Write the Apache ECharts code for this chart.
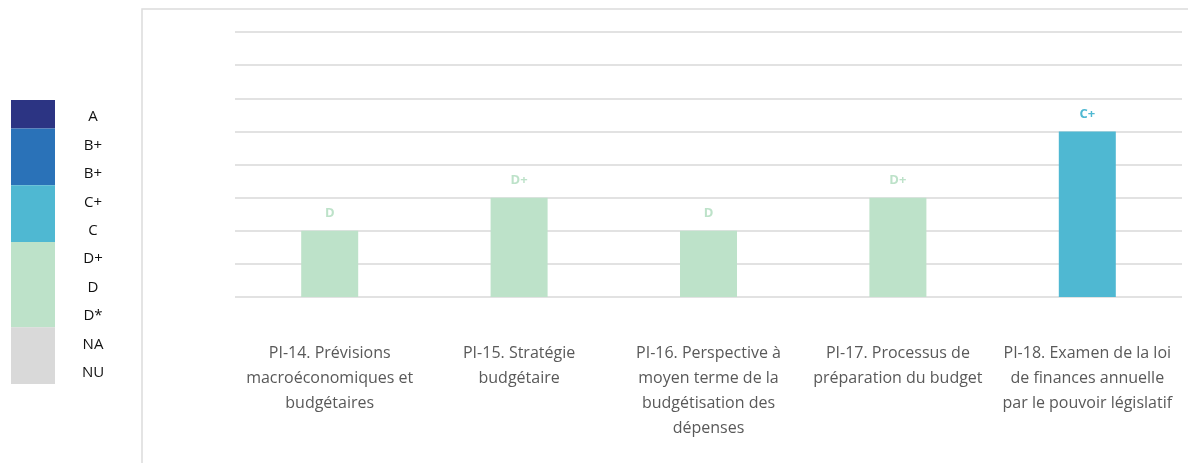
<!DOCTYPE html>
<html>
<head>
<meta charset="utf-8">
<script src="https://cdn.jsdelivr.net/npm/echarts@6/dist/echarts.min.js"></script>
<style>
  html, body { margin: 0; padding: 0; background: #fff; }
  #chart { width: 1188px; height: 463px; }
</style>
</head>
<body>
<div id="chart"></div>
<script>
// PEFA indicators and their scores
const categories = [
  'PI-14. Prévisions\nmacroéconomiques et\nbudgétaires',
  'PI-15. Stratégie\nbudgétaire',
  'PI-16. Perspective à\nmoyen terme de la\nbudgétisation des\ndépenses',
  'PI-17. Processus de\npréparation du budget',
  'PI-18. Examen de la loi\nde finances annuelle\npar le pouvoir législatif'
];
const grades = ['D', 'D+', 'D', 'D+', 'C+'];
const scores = [2, 3, 2, 3, 5];

// Colour key: one row per grade
const keyLabels = ['A', 'B+', 'B+', 'C+', 'C', 'D+', 'D', 'D*', 'NA', 'NU'];
const keyColors = ['#2c3483', '#2a72b8', '#2a72b8', '#4fb8d2', '#4fb8d2',
                   '#bde2c9', '#bde2c9', '#bde2c9', '#d9d9d9', '#d9d9d9'];

const gradeColor = {};
keyLabels.forEach((g, i) => { if (!(g in gradeColor)) gradeColor[g] = keyColors[i]; });

// Merge consecutive rows sharing a colour into one block of the key
const keyBlocks = [];
keyColors.forEach(c => {
  const last = keyBlocks[keyBlocks.length - 1];
  if (last && last.color === c) last.rows += 1;
  else keyBlocks.push({ color: c, rows: 1 });
});

const FONT = 'Open Sans';
const chart = echarts.init(document.getElementById('chart'));

chart.setOption({
  animation: false,
  textStyle: { fontFamily: FONT },
  graphic: [{
    type: 'rect',
    shape: { x: 142, y: 9, width: 1200, height: 600 },
    style: { fill: 'none', stroke: '#dcdcdc', lineWidth: 1.5 },
    silent: true
  }],
  grid: [
    { left: 235, right: 6, top: 32, bottom: 166 },
    { left: 11, width: 44, top: 100, height: 284 },
    { left: 11, width: 44, top: 103, height: 284 }
  ],
  xAxis: [
    {
      type: 'category', gridIndex: 0, data: categories,
      axisLine: { show: false }, axisTick: { show: false },
      axisLabel: { interval: 0, margin: 44, color: '#595959', fontSize: 16, lineHeight: 25, fontFamily: FONT }
    },
    { type: 'category', gridIndex: 1, data: ['key'], show: false },
    { type: 'value', gridIndex: 2, min: 0, max: 1, show: false }
  ],
  yAxis: [
    {
      type: 'value', gridIndex: 0, min: 0, max: 8, interval: 1,
      axisLine: { show: false }, axisTick: { show: false }, axisLabel: { show: false },
      splitLine: { lineStyle: { color: '#d9d9d9', width: 1.5 } }
    },
    { type: 'value', gridIndex: 1, min: 0, max: keyLabels.length, inverse: true, show: false },
    {
      type: 'category', gridIndex: 2, data: keyLabels, inverse: true, position: 'right',
      axisLine: { show: false }, axisTick: { show: false }, splitLine: { show: false },
      axisLabel: { margin: 38, align: 'center', color: '#111', fontSize: 15, fontFamily: FONT }
    }
  ],
  series: [
    {
      type: 'bar', xAxisIndex: 0, yAxisIndex: 0, barWidth: 57,
      data: scores.map((v, i) => ({
        value: v,
        itemStyle: { color: gradeColor[grades[i]] },
        label: { color: gradeColor[grades[i]] }
      })),
      label: {
        show: true, position: 'top', distance: 11,
        fontSize: 13, fontWeight: 'bold', fontFamily: FONT,
        formatter: p => grades[p.dataIndex]
      }
    },
    ...keyBlocks.map(b => ({
      type: 'bar', xAxisIndex: 1, yAxisIndex: 1, stack: 'key', barWidth: '100%',
      data: [b.rows], itemStyle: { color: b.color }, silent: true
    }))
  ]
});
</script>
</body>
</html>
